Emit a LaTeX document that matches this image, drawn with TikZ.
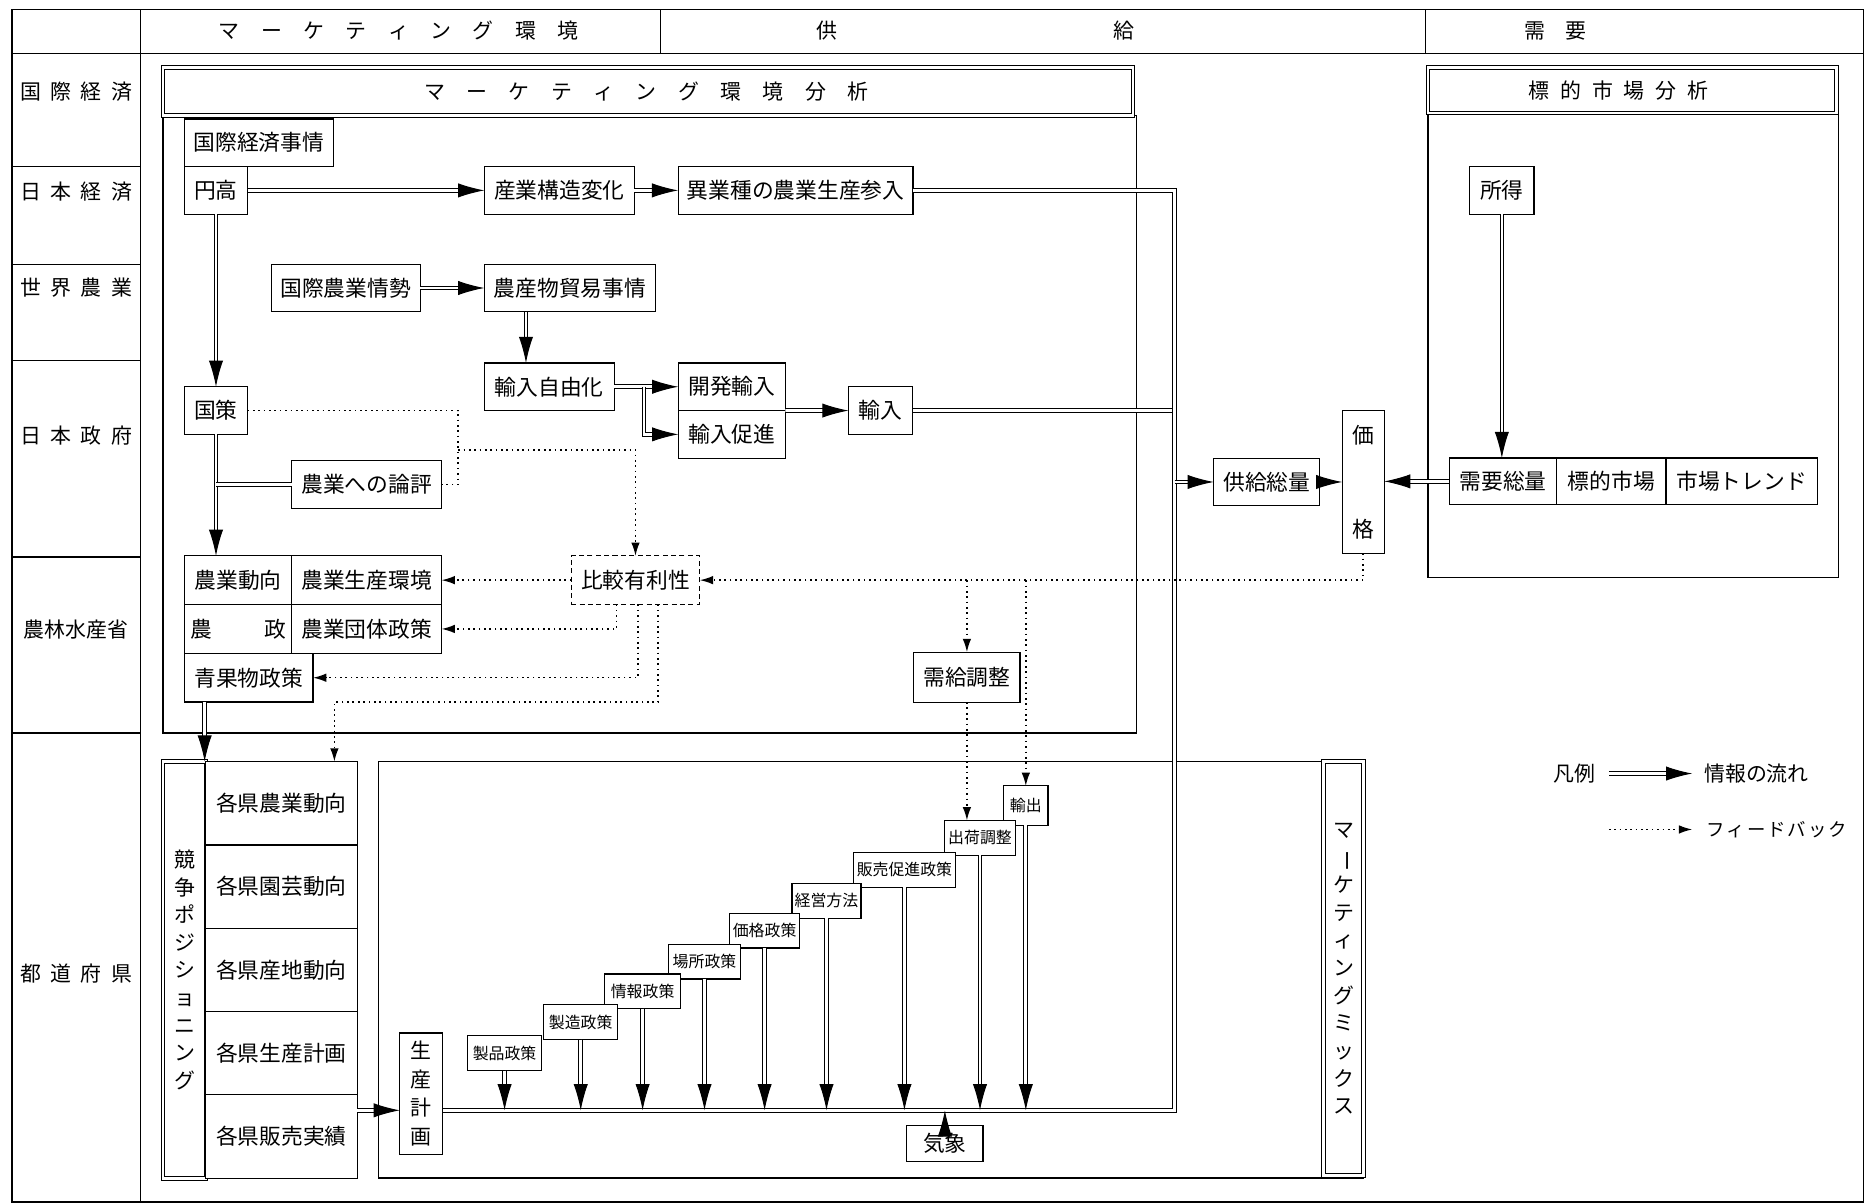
\documentclass[tikz,border=0pt]{standalone}
\usepackage{fontspec}
\setmainfont{Noto Sans CJK JP}
\usepackage{graphicx}
\usetikzlibrary{arrows.meta,calc}
\makeatletter
\newcommand\spread[2]{\@tempswafalse\@tfor\spr@c:=#2\do{\if@tempswa\hspace{#1}\fi\spr@c\@tempswatrue}}
\makeatother
\newcommand{\vbar}{\rotatebox[origin=c]{-90}{ー}}
\begin{document}
\begin{tikzpicture}[x=0.025cm,y=-0.025cm,
  every node/.style={inner sep=0pt, outer sep=0pt, font=\fontsize{13}{15}\selectfont},
  box/.style={draw, fill=white, line width=0.7pt, minimum height=1cm},
  stair/.style={draw, fill=white, line width=0.7pt, minimum height=0.73cm, font=\fontsize{9.5}{11}\selectfont},
  lab/.style={font=\fontsize{12.5}{14}\selectfont},
  vtitle/.style={draw, fill=white, double, double distance=1.6pt, line width=0.6pt, align=center, font=\fontsize{12.5}{16.5}\selectfont},
  rule/.style={line width=0.8pt},
  dframe/.style={double, double distance=1.6pt, line width=0.6pt},
  flow/.style={double, double distance=1.6pt, line width=0.6pt, -{Latex[length=5.5mm,width=3mm]}},
  flowline/.style={double, double distance=1.6pt, line width=0.6pt},
  fb/.style={line width=0.9pt, dash pattern=on 1pt off 2.2pt, -{Latex[length=2.8mm,width=1.8mm]}},
  fbline/.style={line width=0.9pt, dash pattern=on 1pt off 2.2pt}]
\useasboundingbox (0,0) rectangle (1568,1011);
\draw[rule] (10,8) rectangle (1566,1010);
\draw[rule] (10,45) -- (1566,45);
\draw[rule] (118,8) -- (118,1010);
\draw[rule] (555,8) -- (555,45);
\draw[rule] (1198,8) -- (1198,45);
\draw[rule] (10,140) -- (118,140);
\draw[rule] (10,222) -- (118,222);
\draw[rule] (10,303) -- (118,303);
\draw[rule] (10,468) -- (118,468);
\draw[rule] (10,616) -- (118,616);
\node[lab] (hmkt) at (335,26) {\spread{4.5mm}{マーケティング環境}};
\node[lab] (hsup) at (820,26) {供\hspace{5.8cm}給};
\node[lab] (hdem) at (1307,26) {需\hspace{4.2mm}要};
\node[lab] (r1) at (64,77) {\spread{2mm}{国際経済}};
\node[lab] (r2) at (64,161) {\spread{2mm}{日本経済}};
\node[lab] (r3) at (64,242) {\spread{2mm}{世界農業}};
\node[lab] (r4) at (64,366) {\spread{2mm}{日本政府}};
\node[lab] (r5) at (64,529) {農林水産省};
\node[lab] (r6) at (64,818) {\spread{2mm}{都道府県}};
\draw[rule] (137,97) rectangle (955,616);
\draw[dframe] (137,57) rectangle (952,97);
\node[lab] (envtitle) at (543,77) {\spread{4.5mm}{マーケティング環境分析}};
\draw[rule] (1200,95) rectangle (1545,485);
\draw[dframe] (1200,57) rectangle (1543,95);
\node[lab] (tgttitle) at (1360,76) {\spread{2.3mm}{標的市場分析}};
\draw[rule] (318,640) rectangle (1146,990);
\node[box, minimum width=3.13cm] (kokusaiJ) at (217.5,120) {国際経済事情};
\node[box, minimum width=1.33cm] (endaka) at (181.5,160) {円高};
\node[box, minimum width=3.15cm] (sangyo) at (470,160) {産業構造変化};
\node[box, minimum width=4.93cm] (igyoshu) at (668.5,160) {異業種の農業生産参入};
\node[box, minimum width=3.13cm] (kokusaiN) at (290.5,242) {国際農業情勢};
\node[box, minimum width=3.6cm] (boeki) at (479,242) {農産物貿易事情};
\node[box, minimum width=2.73cm] (jiyuka) at (461.5,325) {輸入自由化};
\node[box, minimum width=2.25cm] (kaihatsu) at (615,325) {開発輸入};
\node[box, minimum width=2.25cm] (sokushin) at (615,365) {輸入促進};
\node[box, minimum width=1.35cm] (yunyu) at (740,345) {輸入};
\node[box, minimum width=1.33cm] (kokusaku) at (181.5,345) {国策};
\node[box, minimum width=3.15cm] (ronpyo) at (308,407) {農業への論評};
\node[box, dash pattern=on 3pt off 2pt, minimum width=2.7cm, minimum height=1.02cm] (hikaku) at (534,487.5) {比較有利性};
\node[box, minimum width=2.25cm, minimum height=1.02cm] (doko) at (200,487.5) {農業動向};
\node[box, minimum width=3.15cm, minimum height=1.02cm] (kankyo) at (308,487.5) {農業生産環境};
\node[box, minimum width=2.25cm, minimum height=1.02cm] (nosei) at (200,528.5) {農\hspace{1.1cm}政};
\node[box, minimum width=3.15cm, minimum height=1.02cm] (dantai) at (308,528.5) {農業団体政策};
\node[box, minimum width=2.7cm, minimum height=1.02cm] (seika) at (209,569.5) {青果物政策};
\node[box, minimum width=2.23cm, minimum height=1.05cm] (jukyu) at (812.5,569) {需給調整};
\node[box, minimum width=2.23cm] (kyokyu) at (1064.5,405) {供給総量};
\node[box, minimum width=0.88cm, minimum height=3cm, align=center] (kakaku) at (1145.5,405) {価\\[1.45cm]格};
\node[box, minimum width=1.35cm] (shotoku) at (1262,160) {所得};
\node[box, minimum width=2.25cm, minimum height=0.98cm] (juyo) at (1263,404.5) {需要総量};
\node[box, minimum width=2.3cm, minimum height=0.98cm] (hyoteki) at (1354,404.5) {標的市場};
\node[box, minimum width=3.18cm, minimum height=0.98cm] (trend) at (1463.5,404.5) {市場トレンド};
\node[vtitle, minimum width=0.9cm, minimum height=8.75cm] (kyoso) at (155,815) {競\\争\\ポ\\ジ\\シ\\ョ\\ニ\\ン\\グ};
\node[vtitle, minimum width=0.85cm, minimum height=8.7cm] (mixtitle) at (1129,814) {マ\\\vbar\\ケ\\テ\\ィ\\ン\\グ\\ミ\\ッ\\ク\\ス};
\node[box, minimum width=3.18cm, minimum height=1.75cm] (kaken1) at (236.5,675) {各県農業動向};
\node[box, minimum width=3.18cm, minimum height=1.75cm] (kaken2) at (236.5,745) {各県園芸動向};
\node[box, minimum width=3.18cm, minimum height=1.75cm] (kaken3) at (236.5,815) {各県産地動向};
\node[box, minimum width=3.18cm, minimum height=1.75cm] (kaken4) at (236.5,885) {各県生産計画};
\node[box, minimum width=3.18cm, minimum height=1.75cm] (kaken5) at (236.5,955) {各県販売実績};
\node[box, minimum width=0.9cm, minimum height=2.55cm, align=center, font=\fontsize{12.5}{17}\selectfont] (seisan) at (354,919) {生\\産\\計\\画};
\node[box, minimum width=1.6cm, minimum height=0.75cm] (kisho) at (794,961) {気象};
\node[stair, minimum width=0.93cm, minimum height=0.83cm] (s9) at (862,677) {輸出};
\node[stair, minimum width=1.5cm] (s8) at (823.5,704) {出荷調整};
\node[stair, minimum width=2.15cm] (s7) at (760,731) {販売促進政策};
\node[stair, minimum width=1.45cm] (s6) at (694.5,757) {経営方法};
\node[stair, minimum width=1.48cm] (s5) at (642.5,782) {価格政策};
\node[stair, minimum width=1.5cm] (s4) at (592,808) {場所政策};
\node[stair, minimum width=1.6cm] (s3) at (540,833) {情報政策};
\node[stair, minimum width=1.55cm] (s2) at (488,859) {製造政策};
\node[stair, minimum width=1.55cm] (s1) at (424,885) {製品政策};
\coordinate (trunk) at (987,933);
\coordinate (bj) at ($(boeki.south west)+(35,0)$);
\coordinate (sk) at ($(seika.south west)+(17,0)$);
\coordinate (fbr) at (385,378);
\coordinate (fbk) at (281,590);
\draw[flow] (endaka.east) -- (sangyo.west);
\draw[flow] (sangyo.east) -- (igyoshu.west);
\draw[flow] (endaka.south) -- (kokusaku.north);
\draw[flow] (kokusaku.south) -- (kokusaku.south |- doko.north);
\draw[flowline] (kokusaku.south |- ronpyo.west) -- (ronpyo.west);
\draw[flow] (kokusaiN.east) -- (boeki.west);
\draw[flow] (bj) -- (bj |- jiyuka.north);
\draw[flow] (jiyuka.east) -- (kaihatsu.west);
\draw[flow] ($(jiyuka.east)+(25,0)$) |- (sokushin.west);
\draw[flow] (kaihatsu.south east) -- (yunyu.west);
\draw[flowline] (yunyu.east) -- (yunyu.east -| trunk);
\draw[flowline] (igyoshu.east) -| (trunk) -- (seisan.east |- trunk);
\draw[flow] (trunk |- kyokyu.west) -- (kyokyu.west);
\draw[flow] (kyokyu.east) -- (kyokyu.east -| kakaku.west);
\draw[flow] (juyo.west) -- (juyo.west -| kakaku.east);
\draw[flow] (shotoku.south) -- (shotoku.south |- juyo.north);
\draw[flow] (sk) -- (sk |- kyoso.north);
\draw[flow] (kaken5.east |- trunk) -- (seisan.west |- trunk);
\draw[flow] (kisho.north) -- (kisho.north |- trunk);
\foreach \s in {s1,s2,s3,s4,s5,s6,s7,s8,s9}
  \draw[flow] (\s.south) -- (\s.south |- trunk);
\draw[fbline] (kokusaku.east) -| (fbr) |- (ronpyo.east);
\draw[fb] (fbr) -| (hikaku.north);
\draw[fb] (kakaku.south) |- (hikaku.east);
\draw[fb] (jukyu.north |- hikaku.east) -- (jukyu.north);
\draw[fb] (s9.north |- hikaku.east) -- (s9.north);
\draw[fb] (jukyu.south) -- (jukyu.south |- s8.north);
\draw[fb] (hikaku.west) -- (kankyo.east);
\draw[fb] ($(hikaku.south)+(-16,0)$) |- (dantai.east);
\draw[fb] ($(hikaku.south)+(2,0)$) |- (seika.east);
\draw[fb] ($(hikaku.south)+(19,0)$) |- (fbk) -- (fbk |- kaken1.north);
\node[lab] (legend) at (1323,650) {凡例};
\coordinate (leg1) at (1352,650);
\coordinate (leg2) at (1352,697);
\node[lab, anchor=west] (legflow) at (1432,650) {情報の流れ};
\node[anchor=west, font=\fontsize{11}{13}\selectfont] (legfb) at (1434,697) {\spread{0.4mm}{フィードバック}};
\draw[flow, shorten >=2.5mm] (leg1) -- (legflow.west);
\draw[fb, shorten >=3mm] (leg2) -- (legfb.west);
\end{tikzpicture}
\end{document}
